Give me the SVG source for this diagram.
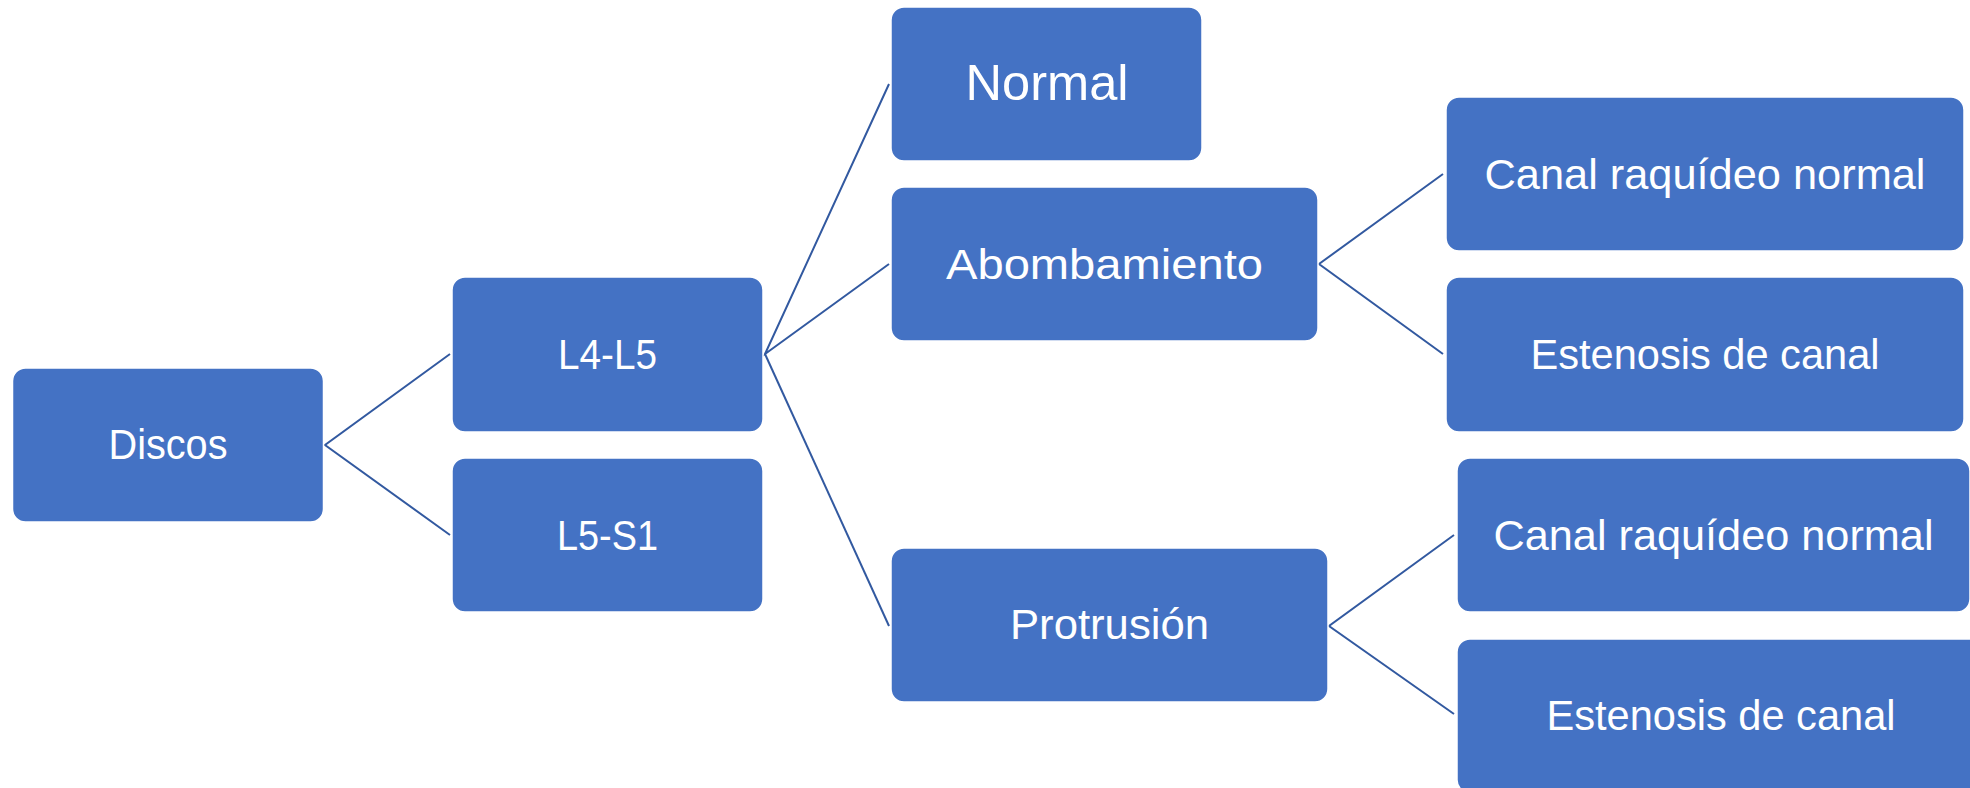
<svg xmlns="http://www.w3.org/2000/svg" width="1970" height="788" viewBox="0 0 1970 788">
<style>
.box{fill:#4472C4;stroke:#ffffff;stroke-width:1.5}
.lbl{fill:#ffffff;font-family:"Liberation Sans",Arial,sans-serif;font-size:42px;text-anchor:middle}
.big{font-size:50px}
.con{stroke:#3259A0;stroke-width:2;fill:none}
</style>
<rect width="1970" height="788" fill="#ffffff"/>
<g id="connectors">
<polyline class="con" points="450,354 325,445 450,535"/>
<polyline class="con" points="889,84 765,354 889,264"/>
<line class="con" x1="765" y1="354" x2="889" y2="626"/>
<polyline class="con" points="1443,174 1319,264 1443,354"/>
<polyline class="con" points="1454,535 1329,626 1454,714"/>
</g>
<g id="discos"><rect class="box" x="12.5" y="368" width="311" height="154" rx="13"/><text class="lbl" x="168" y="459" textLength="119" lengthAdjust="spacingAndGlyphs">Discos</text></g>
<g id="l4l5"><rect class="box" x="452" y="277" width="311" height="155" rx="13"/><text class="lbl" x="607.5" y="369" textLength="99" lengthAdjust="spacingAndGlyphs">L4-L5</text></g>
<g id="l5s1"><rect class="box" x="452" y="458" width="311" height="154" rx="13"/><text class="lbl" x="607.5" y="550" textLength="101" lengthAdjust="spacingAndGlyphs">L5-S1</text></g>
<g id="normal"><rect class="box" x="891" y="7" width="311" height="154" rx="13"/><text class="lbl big" x="1047" y="100" textLength="163" lengthAdjust="spacingAndGlyphs">Normal</text></g>
<g id="abombamiento"><rect class="box" x="891" y="187" width="427" height="154" rx="13"/><text class="lbl" x="1104.5" y="279" textLength="317" lengthAdjust="spacingAndGlyphs">Abombamiento</text></g>
<g id="protrusion"><rect class="box" x="891" y="548" width="437" height="154" rx="13"/><text class="lbl" x="1109.5" y="639" textLength="199" lengthAdjust="spacingAndGlyphs">Protrusión</text></g>
<g id="canal1"><rect class="box" x="1446" y="97" width="518" height="154" rx="13"/><text class="lbl" x="1705" y="189" textLength="441" lengthAdjust="spacingAndGlyphs">Canal raquídeo normal</text></g>
<g id="estenosis1"><rect class="box" x="1446" y="277" width="518" height="155" rx="13"/><text class="lbl" x="1705" y="369" textLength="349" lengthAdjust="spacingAndGlyphs">Estenosis de canal</text></g>
<g id="canal2"><rect class="box" x="1457" y="458" width="513" height="154" rx="13"/><text class="lbl" x="1713.5" y="550" textLength="440" lengthAdjust="spacingAndGlyphs">Canal raquídeo normal</text></g>
<g id="estenosis2"><rect class="box" x="1457" y="639" width="529" height="154" rx="13"/><text class="lbl" x="1721" y="730" textLength="349" lengthAdjust="spacingAndGlyphs">Estenosis de canal</text></g>
</svg>
